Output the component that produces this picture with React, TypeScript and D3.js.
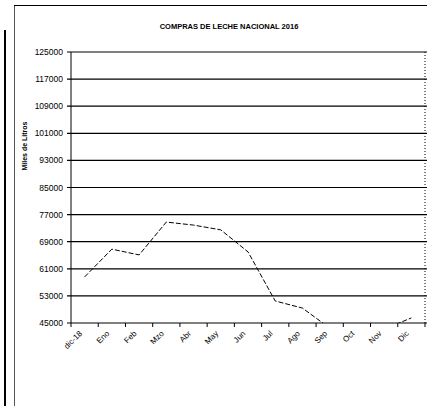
import React from 'react';
import * as d3 from 'd3';

const months = ['dic-18', 'Eno', 'Feb', 'Mzo', 'Abr', 'May', 'Jun', 'Jul', 'Ago', 'Sep', 'Oct', 'Nov', 'Dic'];
const compras = [58600, 66800, 65100, 74800, 73900, 72500, 66000, 51500, 49400, 43500, 42500, 43200, 46500];
const yTicks = [45000, 53000, 61000, 69000, 77000, 85000, 93000, 101000, 109000, 117000, 125000];

export default function App() {
    const width = 427;
    const height = 406;
    const left = 71;
    const right = 425;
    const top = 52;
    const bottom = 323;

    const x = d3.scaleBand().domain(months).range([left, right]).padding(0);
    const y = d3.scaleLinear().domain([45000, 125000]).range([bottom, top]);

    const line = d3.line<number>()
        .x((d, i) => (x(months[i]) as number) + x.bandwidth() / 2)
        .y(d => y(d));

    const font = 'Arial, "Liberation Sans", sans-serif';

    return (
        <svg width={width} height={height} style={{ position: 'absolute', left: 0, top: 0 }}>
            <rect x={0} y={0} width={width} height={height} fill="#fff" />
            <defs>
                <clipPath id="plot">
                    <rect x={left} y={top - 2} width={right - left + 2} height={bottom - top + 2} />
                </clipPath>
            </defs>
            {/* frame */}
            <line x1={5} x2={5} y1={30} y2={height} stroke="#000" strokeWidth={2} />
            <line x1={14.5} x2={14.5} y1={5} y2={height} stroke="#555" strokeWidth={1} />
            <line x1={14} x2={width} y1={5.5} y2={5.5} stroke="#000" strokeWidth={1} />

            <text x={229} y={29} textAnchor="middle" fontFamily={font} fontWeight="bold" fontSize={7.5}>
                COMPRAS DE LECHE NACIONAL 2016
            </text>
            <text transform={`translate(27,146) rotate(-90)`} textAnchor="middle" fontFamily={font}
                fontWeight="bold" fontSize={7}>
                Miles de Litros
            </text>

            {/* gridlines and y ticks */}
            {yTicks.map(t => (
                <g key={t}>
                    <line x1={left - 4} x2={width} y1={y(t)} y2={y(t)} stroke="#000" strokeWidth={1.2} />
                    <text x={63} y={y(t) + 3} textAnchor="end" fontFamily={font} fontSize={8.5}>{t}</text>
                </g>
            ))}
            <line x1={left} x2={left} y1={top} y2={bottom} stroke="#000" strokeWidth={1} />
            <line x1={right} x2={right} y1={top} y2={bottom} stroke="#000" strokeWidth={1} strokeDasharray="1,2" />

            {/* x ticks */}
            {months.map(m => (
                <line key={'t' + m} x1={x(m) as number} x2={x(m) as number} y1={bottom} y2={bottom + 4}
                    stroke="#000" strokeWidth={1} />
            ))}
            <line x1={right} x2={right} y1={bottom} y2={bottom + 4} stroke="#000" strokeWidth={1} />
            {months.map(m => {
                const cx = (x(m) as number) + x.bandwidth() / 2 - 2;
                return (
                    <text key={m} transform={`translate(${cx},${bottom + 11}) rotate(-45)`} textAnchor="end"
                        fontFamily={font} fontSize={8}>{m}</text>
                );
            })}

            <path d={line(compras) || ''} fill="none" stroke="#000" strokeWidth={1}
                strokeDasharray="5,2" clipPath="url(#plot)" />
        </svg>
    );
}
